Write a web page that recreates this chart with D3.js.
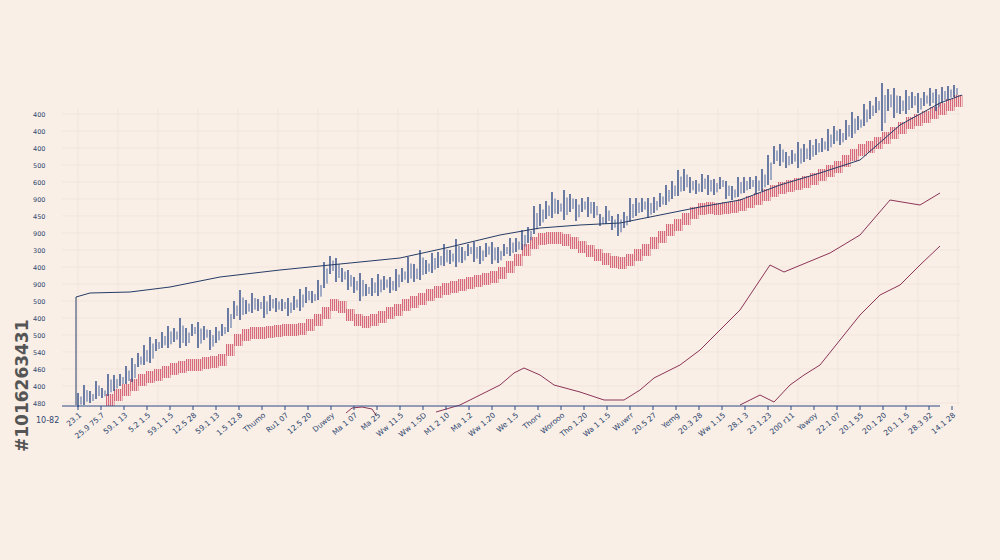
<!DOCTYPE html>
<html>
<head>
<meta charset="utf-8">
<script src="https://cdn.jsdelivr.net/npm/d3@7"></script>
<style>
  body { margin: 0; background: #f9efe6; }
  svg { display: block; }
</style>
</head>
<body>
<svg width="1000" height="560"></svg>
<script>
// blue bars, one every 3 time units
const blueMid = [5,10,8,15,12,20,22,25, 30,35,45,50,55,60,65,68,
  70,72,68,75,70,72,65,70,75, 85,95,100,98,102,100,98,102,100,
  100,98,102,105,110,108,115,130,140, 135,130,125,120,118,115,118,120,122,
  120,125,130,135,132,140,138,142,145, 150,148,152,150,155,153,150,155,152,
  150,155,158,160,165,170,185,190,195, 200,198,200,202,195,200,198,195,185,
  190,182,180,185,195,198,200,197,200, 205,210,215,222,225,220,218,222,220,
  218,222,215,212,218,220,222,220,225, 235,250,250,245,248,250,252,255,258,
  260,265,270,268,275,280,282,290,295, 300,298,305,302,300,303,305,302,306,308,305,310,312,314];
const blueSpread = [14,20,12,18,10,22,16,12, 18,24,14,20,26,12,16,22,
  14,30,18,12,26,14,20,16,12, 24,18,30,14,20,12,22,16,14,
  12,18,14,22,16,12,20,26,18, 24,14,20,16,28,12,18,22,14,
  16,22,14,26,18,30,14,20,16, 22,14,28,16,12,20,18,14,22,
  16,12,18,14,20,16,28,22,18, 26,14,30,18,22,14,20,16,12,
  18,14,22,16,24,18,14,20,16, 14,20,18,26,22,16,14,18,20,
  16,12,18,14,20,16,12,18,22, 30,18,22,16,14,26,18,20,16,
  14,22,18,16,20,26,14,22,18, 16,48,22,30,18,24,16,20,14,18,22,16,14,12];
// red bars, one every 4 time units starting at 16
const redMid = [5,10,15,20,25,28,30,33, 36,38,40,40,42,43,45,55,
  65,70,72,72,73,74,75,75, 76,80,85,92,100,98,90,85,
  83,85,88,92,95,100,103,106, 110,113,116,118,120,122,124,126,
  128,132,138,145,155,162,166,167, 167,165,162,158,154,150,146,143,
  142,145,150,155,162,168,175,180, 186,192,196,197,196,197,198,200,
  203,206,210,214,217,219,221,223, 226,230,234,238,244,250,255,258,
  262,267,272,277,282,285,288,292,296,300,304];
// smooth blue line [t, value]
const trendLine = [[-1,0],[-1,108],[6,112],[26,113],[46,118],[71,128],[101,135],[126,140],[161,147],[186,158],
  [211,170],[231,177],[251,180],[271,182],[291,190],[311,198],[331,205],[351,220],[371,232],
  [391,245],[411,280],[431,302],[442,310]];
const purpleA = [[134,-8],[137,-3],[142,-2],[147,-4],[149,-10]];
const purpleB = [[179,-7],[191,0],[201,10],[211,20],[218,32],[223,37],[231,30],[238,20],[251,13],
  [263,5],[273,5],[281,15],[288,27],[301,40],[311,55],[331,95],[346,140],[353,133],
  [376,152],[391,170],[406,205],[421,200],[431,212]];
const purpleC = [[331,0],[341,10],[348,3],[356,20],[363,30],[371,40],[381,65],[391,90],
  [401,110],[411,120],[421,140],[431,159]];
const yLabels = ["480","400","460","540","500","400","500","900","400","300","900","450","900","600","500","400","400","400"];
const xLabels = ["23.1","25.9 75.7","59.1 13","5.2 1.5","59.1 1.5","12.5 28","59.1 13","1.5 12.8","Thumo",
  "Ru1 07","12.5 20","Duwey","Ma 1 07","Ma 25","Ww 11.5","Ww 1.5D","M1 2 10","Ma 1.2","Ww 1.20",
  "We 1.5","Thorv","Worooo","Tho 1.20","Wa 1 1.5","Wuwrr","20.5 27","Yemg","20.3 28","Ww 1.15",
  "28.1 3","23 1.23","200 r11","Yawoy","22.1 07","20.1 55","20.1 20","20.1 1.5","28.3 92","14.1 28"];

const svg = d3.select("svg");
const x = d3.scaleLinear().domain([0, 440]).range([78, 958]);
const y = d3.scaleLinear().domain([0, 300]).range([405, 105]);

const pat = svg.append("defs").append("pattern").attr("id", "stripes")
  .attr("patternUnits", "userSpaceOnUse").attr("width", 2).attr("height", 4);
pat.append("rect").attr("width", 1.2).attr("height", 4).attr("fill", "#d66a7b");

// grid
const grid = svg.append("g").attr("stroke", "#efe2d8").attr("stroke-width", 0.7);
yLabels.forEach((_, i) => {
  const v = 2 + 17 * i;
  grid.append("line").attr("x1", 62).attr("x2", 960).attr("y1", y(v)).attr("y2", y(v));
});
d3.range(0, 441, 20).forEach(t => {
  grid.append("line").attr("x1", x(t)).attr("x2", x(t)).attr("y1", 108).attr("y2", 405);
});

// y labels
svg.append("g").selectAll("text").data(yLabels).enter().append("text")
  .attr("x", 33).attr("y", (d, i) => y(2 + 17 * i) + 2.5)
  .attr("font-family", "DejaVu Sans").attr("font-size", 6.5).attr("fill", "#2f4670")
  .text(d => d);

// red bars
svg.append("g").attr("fill", "url(#stripes)").selectAll("rect").data(redMid).enter().append("rect")
  .attr("x", (d, i) => x(16 + 4 * i) - 4).attr("width", 8.5)
  .attr("y", d => y(d + 6)).attr("height", d => y(0) - y(12));

// blue bars
svg.append("g").attr("stroke", "#2e4a86").attr("stroke-width", 1.4).selectAll("line").data(blueMid).enter().append("line")
  .attr("x1", (d, i) => x(3 * i)).attr("x2", (d, i) => x(3 * i))
  .attr("y1", (d, i) => y(d - blueSpread[i] / 2)).attr("y2", (d, i) => y(d + blueSpread[i] / 2));
svg.append("g").attr("stroke", "#4a67a3").attr("stroke-width", 1).selectAll("line").data(blueMid).enter().append("line")
  .attr("x1", (d, i) => x(3 * i + 1.5)).attr("x2", (d, i) => x(3 * i + 1.5))
  .attr("y1", (d, i) => y(d - blueSpread[i] / 3)).attr("y2", (d, i) => y(d + blueSpread[i] / 4));

svg.append("path").datum(trendLine).attr("d", d3.line().x(d => x(d[0])).y(d => y(d[1])))
  .attr("fill", "none").attr("stroke", "#263c66").attr("stroke-width", 1);
[purpleA, purpleB, purpleC].forEach(p => {
  svg.append("path").datum(p).attr("d", d3.line().x(d => x(d[0])).y(d => y(d[1])))
    .attr("fill", "none").attr("stroke", "#8c3458").attr("stroke-width", 1)
    .attr("stroke-linejoin", "round");
});

// x axis
const xs = d3.scalePoint().domain(d3.range(xLabels.length)).range([78, 952]);
const ax = svg.append("g").attr("transform", "translate(0,406)");
ax.append("line").attr("x1", 62).attr("x2", 940).attr("stroke", "#2e4a86").attr("stroke-width", 1.2);
ax.selectAll(".tk").data(xLabels).enter().append("line")
  .attr("x1", (d, i) => xs(i)).attr("x2", (d, i) => xs(i)).attr("y1", 0).attr("y2", 4)
  .attr("stroke", "#2e4a86");
ax.selectAll("text").data(xLabels).enter().append("text")
  .attr("transform", (d, i) => `translate(${xs(i) + 4},10) rotate(-40)`)
  .attr("text-anchor", "end").attr("font-family", "DejaVu Sans").attr("font-size", 7.5)
  .attr("fill", "#2f4670").text(d => d);
svg.append("text").attr("x", 36).attr("y", 423).attr("font-family", "DejaVu Sans").attr("font-size", 8)
  .attr("fill", "#2f4670").text("10-82");

svg.append("text").attr("transform", "translate(28,452) rotate(-90)")
  .attr("font-family", "DejaVu Sans").attr("font-weight", "bold").attr("font-size", 17)
  .attr("fill", "#555").text("#1016263431");
</script>
</body>
</html>
